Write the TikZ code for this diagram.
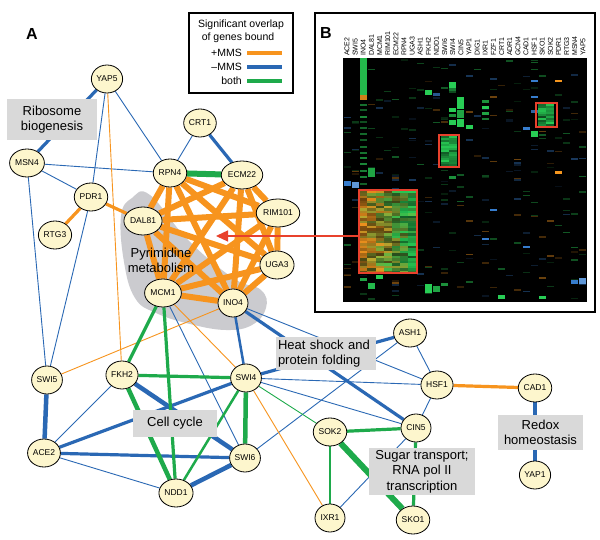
\documentclass[tikz,border=0pt]{standalone}
\usepackage{fontspec}
\setmainfont{Liberation Sans}
\usetikzlibrary{shapes.geometric,arrows.meta}
\definecolor{corange}{RGB}{247,148,30}
\definecolor{cblue}{RGB}{42,104,180}
\definecolor{cgreen}{RGB}{30,170,75}
\definecolor{genefill}{RGB}{253,246,205}
\definecolor{boxgray}{RGB}{217,217,217}
\definecolor{blobgray}{RGB}{203,203,207}
\definecolor{hmg}{RGB}{40,205,85}
\definecolor{hmo}{RGB}{245,150,30}
\definecolor{hmb}{RGB}{55,125,205}
\definecolor{hmc1}{RGB}{40,205,85}
\definecolor{hmc2}{RGB}{40,205,85}
\definecolor{hmc3}{RGB}{55,125,205}
\definecolor{hmc4}{RGB}{245,150,30}
\definecolor{redbox}{RGB}{232,65,44}
\pgfdeclarelayer{bg}
\pgfdeclarelayer{blob}
\pgfdeclarelayer{edges}
\pgfdeclarelayer{boxes}
\pgfdeclarelayer{top}
\pgfsetlayers{bg,blob,edges,boxes,main,top}
\newcommand{\hmbar}[4]{\fill[#4] ({343.6+8.133*#1},#2) rectangle ++(7,#3);}
\begin{document}
\begin{tikzpicture}[x=1pt,y=-1pt,
  gene/.style={ellipse,draw=black,line width=0.8pt,fill=genefill,inner xsep=0.5pt,inner ysep=0pt,
    minimum width=30pt,minimum height=28pt,font=\fontsize{8.5}{10}\selectfont},
  lbox/.style={fill=boxgray,inner sep=0pt,font=\fontsize{13}{15.5}\selectfont,align=center},
  bl/.style={draw=cblue},
  ora/.style={draw=corange},
  gr/.style={draw=cgreen},
  w1/.style={line width=0.9pt},
  w2/.style={line width=2.5pt},
  w3/.style={line width=3.2pt},
  w4/.style={line width=4.5pt},
  w5/.style={line width=6pt},
  rbox/.style={draw=redbox,line width=2.2pt,inner sep=0pt},
  collab/.style={rotate=90,anchor=west,inner sep=0pt,font=\fontsize{7}{8}\selectfont}
]
\useasboundingbox (0,0) rectangle (600,540);
\begin{pgfonlayer}{bg}
\fill[white] (0,0) rectangle (600,540);
\end{pgfonlayer}

% ---------------- genes ----------------
\node[gene] (yap5) at (107,79) {YAP5};
\node[gene] (crt1) at (200,123) {CRT1};
\node[gene] (msn4) at (27,163) {MSN4};
\node[gene] (rpn4) at (170,173) {RPN4};
\node[gene] (ecm22) at (242,175) {ECM22};
\node[gene] (pdr1) at (91,197) {PDR1};
\node[gene] (dal81) at (143,221) {DAL81};
\node[gene] (rim101) at (278,213) {RIM101};
\node[gene] (rtg3) at (55,235) {RTG3};
\node[gene] (uga3) at (277,265) {UGA3};
\node[gene] (mcm1) at (163,293) {MCM1};
\node[gene] (ino4) at (233,303) {INO4};
\node[gene] (swi5) at (47,380) {SWI5};
\node[gene] (fkh2) at (122,375) {FKH2};
\node[gene] (swi4) at (246,378) {SWI4};
\node[gene] (ace2) at (44,453) {ACE2};
\node[gene] (swi6) at (245,458) {SWI6};
\node[gene] (ndd1) at (176,493) {NDD1};
\node[gene] (ash1) at (410,333) {ASH1};
\node[gene] (hsf1) at (437,385) {HSF1};
\node[gene] (cad1) at (535,388) {CAD1};
\node[gene] (cin5) at (416,428) {CIN5};
\node[gene] (sok2) at (330,432) {SOK2};
\node[gene] (yap1) at (535,475) {YAP1};
\node[gene] (ixr1) at (330,518) {IXR1};
\node[gene] (sko1) at (413,520) {SKO1};

% ---------------- blob ----------------
\begin{pgfonlayer}{blob}
\fill[blobgray] plot[smooth cycle,tension=0.7] coordinates {(121,216) (132,198) (150,195) (188,240) (233,278) (261,290) (266,308) (252,325) (226,330) (190,324) (156,313) (135,298) (124,262)};
\end{pgfonlayer}

% ---------------- edges ----------------
\begin{pgfonlayer}{edges}
% blue
\draw[bl,w3] (yap5) -- (msn4);
\draw[bl,w1] (yap5) -- (rpn4);
\draw[bl,w1] (yap5) -- (pdr1);
\draw[bl,w1] (pdr1) -- (swi5);
\draw[bl,w1] (msn4) -- (rpn4);
\draw[bl,w1] (msn4) -- (pdr1);
\draw[bl,w1] (msn4) -- (swi5);
\draw[bl,w1] (crt1) -- (rpn4);
\draw[bl,w3] (crt1) -- (ecm22);
\draw[bl,w1] (mcm1) -- (swi6);
\draw[bl,w4] (fkh2) -- (swi6);
\draw[bl,w1] (fkh2) -- (ace2);
\draw[bl,w4] (swi5) -- (ace2);
\draw[bl,w3] (ace2) -- (swi4);
\draw[bl,w3] (ace2) -- (swi6);
\draw[bl,w1] (ace2) -- (ndd1);
\draw[bl,w4] (swi6) -- (ndd1);
\draw[bl,w2] (ino4) -- (swi4);
\draw[bl,w3] (ino4) -- (cin5);
\draw[bl,w1] (ino4) -- (hsf1);
\draw[bl,w3] (swi4) -- (ash1);
\draw[bl,w1] (swi4) -- (hsf1);
\draw[bl,w1] (swi4) -- (cin5);
\draw[bl,w1] (swi6) -- (ash1);
\draw[bl,w1] (ash1) -- (hsf1);
\draw[bl,w1] (hsf1) -- (cin5);
\draw[bl,w3] (cad1) -- (yap1);
\draw[bl,w1] (cin5) -- (ixr1);
% orange
\draw[ora,w1] (yap5) -- (fkh2);
\draw[ora,w3] (pdr1) -- (rtg3);
\draw[ora,w3] (pdr1) -- (dal81);
\draw[ora,w1] (ino4) -- (swi5);
\draw[ora,w1] (mcm1) -- (swi4);
\draw[ora,w1] (swi4) -- (ixr1);
\draw[ora,w3] (hsf1) -- (cad1);
\foreach \a/\b in {rpn4/rim101,rpn4/uga3,rpn4/ino4,rpn4/mcm1,rpn4/dal81,
  ecm22/rim101,ecm22/uga3,ecm22/ino4,ecm22/mcm1,ecm22/dal81,
  rim101/uga3,rim101/ino4,rim101/mcm1,rim101/dal81,
  uga3/ino4,uga3/mcm1,uga3/dal81,ino4/mcm1,ino4/dal81,mcm1/dal81}
  \draw[ora,w5] (\a) -- (\b);
% green
\draw[gr,w5] (rpn4) -- (ecm22);
\draw[gr,w3] (mcm1) -- (fkh2);
\draw[gr,w3] (mcm1) -- (ndd1);
\draw[gr,w3] (fkh2) -- (swi4);
\draw[gr,w4] (fkh2) -- (ndd1);
\draw[gr,w4] (swi4) -- (swi6);
\draw[gr,w2] (swi4) -- (ndd1);
\draw[gr,w1] (swi4) -- (sok2);
\draw[gr,w3] (cin5) -- (sok2);
\draw[gr,w3] (cin5) -- (sko1);
\draw[gr,w2] (sok2) -- (ixr1);
\draw[gr,w5] (sok2) -- (sko1);
\end{pgfonlayer}

% ---------------- label boxes ----------------
\begin{pgfonlayer}{boxes}
\node[lbox,minimum width=90pt,minimum height=41pt] (ribo) at (52,119.5) {Ribosome\\biogenesis};
\node[lbox,minimum width=84pt,minimum height=27pt] (cellc) at (175,423.5) {Cell cycle};
\node[lbox,minimum height=33pt,inner xsep=2.5pt,text width=95pt,align=left] (heat) at (325.5,353.5) {Heat shock and\\protein folding};
\node[lbox,minimum width=106pt,minimum height=47pt] (sugar) at (422,471.5) {Sugar transport;\\RNA pol II\\transcription};
\node[lbox,minimum width=85pt,minimum height=35pt] (redox) at (540.5,432.5) {Redox\\homeostasis};
\node[inner sep=0pt,font=\fontsize{13}{15}\selectfont,align=center] (pyri) at (161,260.5) {Pyrimidine\\metabolism};
\end{pgfonlayer}

% ---------------- panel A label & legend ----------------
\node[font=\bfseries\fontsize{16}{16}\selectfont] (lA) at (32,34) {A};
\draw[line width=1.5pt] (189,13) rectangle (293,93);
\node[font=\fontsize{10.5}{12}\selectfont] (lg1) at (241,25) {Significant overlap};
\node[font=\fontsize{10.5}{12}\selectfont] (lg2) at (238,37.5) {of genes bound};
\node[font=\fontsize{10.5}{12}\selectfont,anchor=east,inner sep=0pt] (lgo) at (242,53) {+MMS};
\node[font=\fontsize{10.5}{12}\selectfont,anchor=east,inner sep=0pt] (lgb) at (242,67) {\char"2013MMS};
\node[font=\fontsize{10.5}{12}\selectfont,anchor=east,inner sep=0pt] (lgg) at (242,81) {both};
\draw[corange,line width=3.5pt] (247,53) -- (282,53);
\draw[cblue,line width=3.5pt] (247,67) -- (282,67);
\draw[cgreen,line width=3.5pt] (247,81) -- (282,81);

% ---------------- panel B ----------------
\draw[line width=1.5pt] (315,13) rectangle (595,312);
\node[font=\bfseries\fontsize{16}{16}\selectfont] (lB) at (326,33) {B};
\fill[black] (343,58) rectangle (587,302);
\foreach \n [count=\i from 0] in {ACE2,SWI5,INO4,DAL81,MCM1,RIM101,ECM22,RPN4,UGA3,ASH1,FKH2,NDD1,SWI6,SWI4,CIN5,YAP1,DIG1,IXR1,FZF1,CRT1,ADR1,GCN4,CAD1,HSF1,SKO1,SOK2,PDR1,RTG3,MSN4,YAP5}
  \node[collab] (cl\i) at ({343+8.133*(\i+0.5)},56) {\n};

\pgfmathsetseed{4217}
% scattered dim bars
\foreach \k in {1,...,260}{
  \pgfmathtruncatemacro{\hmcol}{random(0,29)}
  \pgfmathsetmacro{\hmy}{59+rnd*240}
  \pgfmathsetmacro{\hmh}{0.8+rnd*1.4}
  \pgfmathtruncatemacro{\hmt}{random(1,4)}
  \pgfmathtruncatemacro{\hmbr}{random(12,45)}
  \fill[hmc\hmt!\hmbr!black] ({343.6+8.133*\hmcol},\hmy) rectangle ++(7,\hmh);
}
% INO4 column features
\hmbar{2}{58}{37}{hmg!90!black}
\hmbar{2}{95}{5}{hmo!85!black}
\foreach \yy in {104,109,116,121,127,133,139,146,152,157,163,170,176,183}{
  \pgfmathtruncatemacro{\hmbr}{random(35,75)}
  \hmbar{2}{\yy}{2}{hmg!\hmbr!black}
}
\hmbar{3}{168}{9}{hmg!80!black}
\hmbar{0}{181}{5}{hmb}
\hmbar{1}{182}{6}{hmb!80!white}
\hmbar{13}{82}{6}{hmg}
\hmbar{13}{88}{3}{hmg!60!black}
\hmbar{14}{97}{12}{hmg}
\hmbar{14}{110}{8}{hmg!80!black}
\hmbar{14}{119}{8}{hmg}
\hmbar{13}{108}{4}{hmg}
\hmbar{13}{114}{3}{hmg!70!black}
\hmbar{13}{120}{5}{hmg}
\hmbar{15}{125}{4}{hmg}
\hmbar{10}{90}{5}{hmg}
\hmbar{11}{93}{3}{hmb!70!black}
\hmbar{23}{131}{6}{hmg}
\hmbar{22}{127}{3}{hmb}
\hmbar{23}{80}{2}{hmb}
\hmbar{23}{96}{2}{hmb}
\hmbar{23}{110}{3}{hmb!80!black}
\hmbar{17}{100}{3}{hmg!70!black}
\hmbar{17}{106}{3}{hmg}
\hmbar{17}{112}{3}{hmg!80!black}
\hmbar{17}{118}{2}{hmg!60!black}
\hmbar{26}{171}{3}{hmo}
\hmbar{26}{80}{2}{hmo}
\hmbar{10}{284}{9}{hmg}
\hmbar{11}{286}{6}{hmg!80!black}
\hmbar{19}{295}{4}{hmg}
\hmbar{29}{278}{6}{hmb!80!white}
\hmbar{28}{280}{4}{hmb}
\hmbar{4}{275}{4}{hmg}
\hmbar{2}{278}{3}{hmg!80!black}
\hmbar{3}{283}{6}{hmg!90!black}
\hmbar{22}{246}{2}{hmb}
\hmbar{17}{238}{2}{hmb}
\hmbar{18}{209}{2}{hmb}
\hmbar{24}{296}{3}{hmg}
\hmbar{12}{283}{3}{hmg!70!black}
\hmbar{13}{176}{3}{hmg!70!black}
% big block
\foreach \c in {2,...,8}{
  \foreach \r in {0,...,32}{
    \pgfmathtruncatemacro{\hmpo}{max(0,min(100,100-(\c-2)*17+random(-35,35)))}
    \pgfmathtruncatemacro{\hmbr}{random(40,100)}
    \fill[hmo!\hmpo!hmg!\hmbr!black] ({343+8.133*\c},{191+2.5*\r}) rectangle ++(8.133,2.5);
  }
}
% middle block
\foreach \c in {12,13}{
  \foreach \r in {0,...,14}{
    \pgfmathtruncatemacro{\hmbr}{random(45,100)}
    \fill[hmg!\hmbr!black] ({343+8.133*\c},{136+2*\r}) rectangle ++(8.133,2);
  }
}
% right block
\foreach \c in {24,25}{
  \foreach \r in {0,...,10}{
    \pgfmathtruncatemacro{\hmbr}{random(35,100)}
    \fill[hmg!\hmbr!black] ({343+8.133*\c},{104+2*\r}) rectangle ++(8.133,2);
  }
}
\node[rbox,minimum width=58pt,minimum height=83pt] (bigbox) at (388,231.5) {};
\node[rbox,minimum width=20pt,minimum height=32pt] (midbox) at (449,151) {};
\node[rbox,minimum width=21pt,minimum height=24pt] (rtbox) at (546.5,115) {};

% ---------------- red arrow ----------------
\begin{pgfonlayer}{top}
\coordinate (arrtip) at (216,236);
\draw[draw=redbox,line width=1.3pt,-{Triangle[length=12pt,width=11pt]}] (bigbox.west |- arrtip) -- (arrtip);
\end{pgfonlayer}
\end{tikzpicture}
\end{document}
